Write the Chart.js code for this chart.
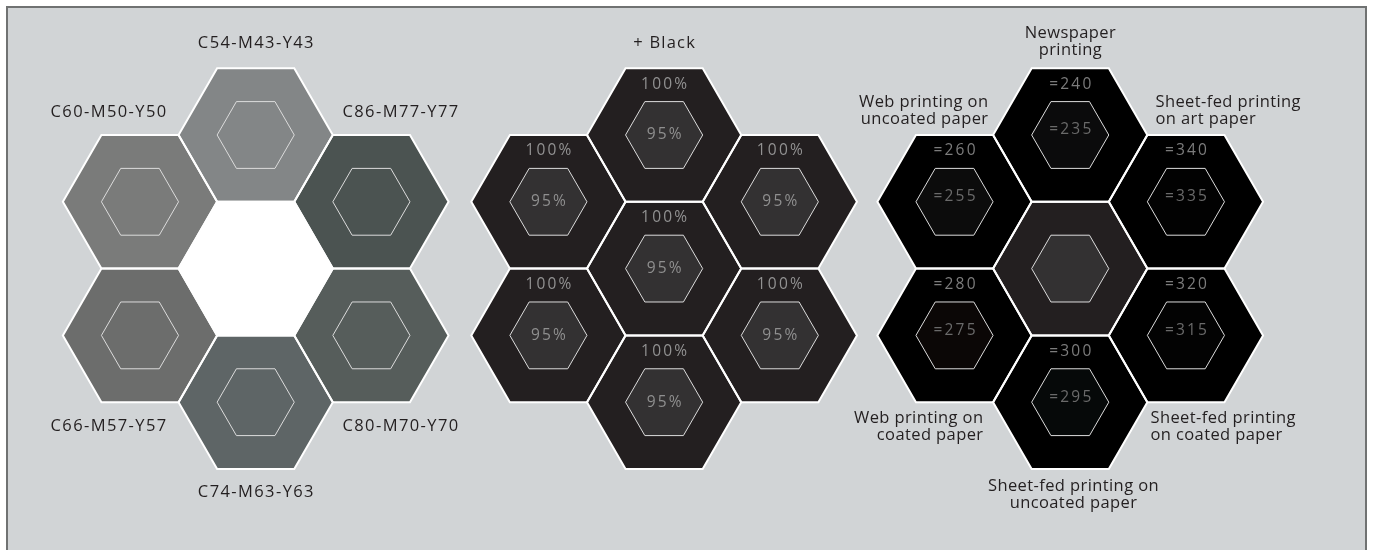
<!DOCTYPE html>
<html>
<head>
<meta charset="utf-8">
<script src="https://cdn.jsdelivr.net/npm/chart.js@4.4.1/dist/chart.umd.min.js"></script>
<style>
  html, body { margin: 0; padding: 0; background: #ffffff; }
  #wrap { width: 1373px; height: 550px; }
</style>
</head>
<body>
<div id="wrap"><canvas id="hexChart" width="1373" height="550"></canvas></div>
<script>
// Hex slots of one cluster (column, half-row): top, upper-left, upper-right,
// lower-left, lower-right, bottom, centre
const slotCols = [1, 0, 2, 0, 2, 1, 1];
const slotRows = [0, 1, 1, 3, 3, 4, 2];
const clusterCols = [0, 3.53, 7.04];

// Cluster 1: CMY mixes
const mixNames = ["C54-M43-Y43", "C60-M50-Y50", "C86-M77-Y77", "C66-M57-Y57", "C80-M70-Y70", "C74-M63-Y63"];

// Cluster 2: + Black
const blackTitle = "+ Black";
const blackOuter = ["100%", "100%", "100%", "100%", "100%", "100%", "100%"];
const blackInner = ["95%", "95%", "95%", "95%", "95%", "95%", "95%"];

// Cluster 3: total ink limits per printing process
const processNames = [
    "Newspaper\nprinting",
    "Web printing on\nuncoated paper",
    "Sheet-fed printing\non art paper",
    "Web printing on\ncoated paper",
    "Sheet-fed printing\non coated paper",
    "Sheet-fed printing on\nuncoated paper",
];
const limitOuter = ["=240", "=260", "=340", "=280", "=320", "=300"];
const limitInner = ["=235", "=255", "=335", "=275", "=315", "=295"];

// colours
const mixFill = ["#838687", "#7a7b7a", "#4b5351", "#6c6d6c", "#565d5b", "#5e6566", "#ffffff"];
const blackFill = "#231f20";
const blackInnerFill = "#333132";
const limitFill = ["#000000", "#000000", "#000000", "#000000", "#000000", "#000000", "#231f20"];
const limitInnerFill = ["#0b0b0c", "#0c0c0c", "#020202", "#0b0706", "#030303", "#060909", "#333132"];

// label anchors, in hex radius units: [align, dx, dy]
const mixLabelPos = [
    ["center", 0, -1.19], ["right", 0.34, -1.155], ["left", -0.375, -1.155],
    ["right", 0.34, 1.18], ["left", -0.375, 1.18], ["center", 0, 1.167],
];
const processLabelPos = [
    ["center", 0, -1.205], ["right", 0.435, -1.18], ["left", -0.395, -1.18],
    ["right", 0.37, 1.19], ["left", -0.46, 1.19], ["center", 0.04, 1.2],
];

const clusterPoints = (c) => slotCols.map((col, i) => ({ x: clusterCols[c] + col, y: slotRows[i] }));

const FONT = '"Open Sans", "Noto Sans", sans-serif';

const hexPath = (ctx, cx, cy, r) => {
    ctx.beginPath();
    for (let k = 0; k < 6; k++) {
        const a = (Math.PI / 3) * k;
        const px = cx + r * Math.cos(a);
        const py = cy + r * Math.sin(a);
        if (k === 0) ctx.moveTo(px, py); else ctx.lineTo(px, py);
    }
    ctx.closePath();
};

const drawText = (ctx, text, x, y, align, size, color, spacing, lineH) => {
    ctx.save();
    ctx.font = `${size}px ${FONT}`;
    ctx.fillStyle = color;
    ctx.textAlign = align;
    ctx.textBaseline = "middle";
    if ("letterSpacing" in ctx) ctx.letterSpacing = spacing + "px";
    const lines = text.split("\n");
    const top = y - ((lines.length - 1) * lineH) / 2;
    lines.forEach((ln, i) => {
        // letterSpacing adds trailing space, compensate for centred / right text
        let xx = x;
        if (align === "center") xx += spacing / 2;
        if (align === "right") xx += spacing;
        ctx.fillText(ln, xx, top + i * lineH);
    });
    ctx.restore();
};

const hexPlugin = {
    id: "hexPlugin",
    beforeDraw(chart) {
        const { ctx, width, height } = chart;
        ctx.save();
        ctx.fillStyle = "#ffffff";
        ctx.fillRect(0, 0, width, height);
        ctx.fillStyle = "#d1d4d6";
        ctx.fillRect(7, 7, width - 14, height - 7);
        ctx.strokeStyle = "#707272";
        ctx.lineWidth = 2;
        ctx.beginPath();
        ctx.moveTo(7, height);
        ctx.lineTo(7, 7);
        ctx.lineTo(width - 7, 7);
        ctx.lineTo(width - 7, height);
        ctx.stroke();
        ctx.restore();
    },
    afterDatasetsDraw(chart) {
        const { ctx, scales } = chart;
        const R = (scales.x.getPixelForValue(1) - scales.x.getPixelForValue(0)) / 1.5;
        ctx.save();
        chart.data.datasets.forEach((ds, di) => {
            const pts = chart.getDatasetMeta(di).data;
            // outer hexes
            pts.forEach((p, i) => {
                hexPath(ctx, p.x, p.y, R);
                ctx.fillStyle = ds.hexFill[i];
                ctx.fill();
            });
            ctx.strokeStyle = "#ffffff";
            ctx.lineWidth = 2;
            ctx.lineJoin = "miter";
            pts.forEach((p) => {
                hexPath(ctx, p.x, p.y, R);
                ctx.stroke();
            });
            // inner hexes
            pts.forEach((p, i) => {
                if (!ds.innerFill[i]) return;
                hexPath(ctx, p.x, p.y, R / 2);
                ctx.fillStyle = ds.innerFill[i];
                ctx.fill();
                ctx.strokeStyle = "#dcdcdc";
                ctx.lineWidth = 1;
                ctx.stroke();
            });
            // texts inside
            pts.forEach((p, i) => {
                if (ds.outerText && ds.outerText[i]) {
                    drawText(ctx, ds.outerText[i], p.x, p.y - R * 0.66, "center", 15.5, ds.outerTextColor, 2.2, 17);
                }
                if (ds.innerText && ds.innerText[i]) {
                    drawText(ctx, ds.innerText[i], p.x, p.y + R * ds.innerDy, "center", 15.5, ds.innerTextColor, 2.2, 17);
                }
                if (ds.names && ds.names[i]) {
                    const [align, dx, dy] = ds.namePos[i];
                    drawText(ctx, ds.names[i], p.x + dx * R, p.y + dy * R, align, ds.nameSize, "#231f20", ds.nameSpacing, 17);
                }
            });
            if (ds.title) {
                const p = pts[0];
                drawText(ctx, ds.title, p.x, p.y - R * 1.19, "center", 16.5, "#231f20", 1.2, 17);
            }
        });
        ctx.restore();
    },
};

const ctx = document.getElementById("hexChart");

new Chart(ctx, {
    type: "scatter",
    data: {
        datasets: [
            {
                label: "CMY",
                data: clusterPoints(0),
                pointRadius: 0,
                hexFill: mixFill,
                innerFill: mixFill.map((c, i) => (i < 6 ? c : null)),
                names: mixNames,
                namePos: mixLabelPos,
                nameSize: 16.5,
                nameSpacing: 1.4,
            },
            {
                label: "+ Black",
                data: clusterPoints(1),
                pointRadius: 0,
                hexFill: slotCols.map(() => blackFill),
                innerFill: slotCols.map(() => blackInnerFill),
                outerText: blackOuter,
                innerText: blackInner,
                outerTextColor: "#929292",
                innerTextColor: "#8f8f8f",
                innerDy: 0,
                title: blackTitle,
            },
            {
                label: "Ink limit",
                data: clusterPoints(2),
                pointRadius: 0,
                hexFill: limitFill,
                innerFill: limitInnerFill,
                outerText: limitOuter,
                innerText: limitInner,
                outerTextColor: "#7c7c7c",
                innerTextColor: "#6a6a6a",
                innerDy: -0.065,
                names: processNames,
                namePos: processLabelPos,
                nameSize: 16.5,
                nameSpacing: 0.4,
            },
        ],
    },
    options: {
        responsive: false,
        devicePixelRatio: 1,
        animation: false,
        layout: { padding: 0 },
        scales: {
            x: { type: "linear", display: false, min: -1.21, max: 10.657 },
            y: { type: "linear", display: false, reverse: true, min: -2.021, max: 6.213 },
        },
        plugins: {
            legend: { display: false },
            tooltip: { enabled: false },
        },
    },
    plugins: [hexPlugin],
});
</script>
</body>
</html>
